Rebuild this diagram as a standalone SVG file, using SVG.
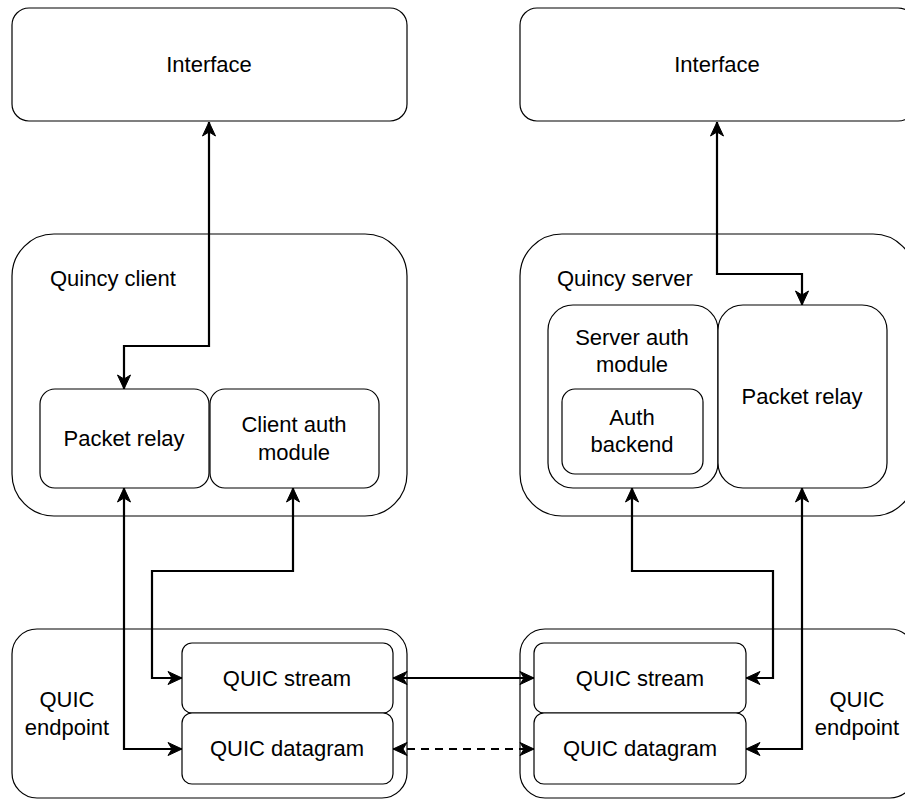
<svg xmlns="http://www.w3.org/2000/svg" width="905" height="799" viewBox="0 0 905 799">
<defs>
<style>
.box{fill:#fff;stroke:#000;stroke-width:1.2}
.t{font-family:"Liberation Sans",Arial,sans-serif;font-size:22px;fill:#000;text-anchor:middle}
.ts{font-family:"Liberation Sans",Arial,sans-serif;font-size:22px;fill:#000;text-anchor:start}
.c{fill:none;stroke:#000;stroke-width:2.2;marker-start:url(#arr);marker-end:url(#arr)}
.dash{stroke-dasharray:8 6}
</style>
<marker id="arr" markerUnits="userSpaceOnUse" viewBox="-15 -8 16 16" refX="0" refY="0" markerWidth="16" markerHeight="16" orient="auto-start-reverse" overflow="visible">
<path d="M0,0 L-14,-6.5 L-10,0 L-14,6.5 Z" fill="#000" stroke="#000" stroke-width="1"/>
</marker>
</defs>

<g id="interface-left">
<rect class="box" x="12" y="8" width="395" height="113" rx="17"/>
<text class="t" x="209" y="72">Interface</text>
</g>
<g id="interface-right">
<rect class="box" x="520" y="8" width="395" height="113" rx="17"/>
<text class="t" x="717" y="72">Interface</text>
</g>

<g id="quincy-client">
<rect class="box" x="12" y="234" width="395" height="282" rx="42"/>
<text class="ts" x="50" y="286">Quincy client</text>
</g>
<g id="client-packet-relay">
<rect class="box" x="40" y="389" width="169" height="99" rx="15"/>
<text class="t" x="124" y="446">Packet relay</text>
</g>
<g id="client-auth-module">
<rect class="box" x="210" y="389" width="169" height="99" rx="15"/>
<text class="t" x="294" y="432">Client auth</text>
<text class="t" x="294" y="460">module</text>
</g>

<g id="quincy-server">
<rect class="box" x="520" y="234" width="395" height="282" rx="42"/>
<text class="ts" x="557" y="286">Quincy server</text>
</g>
<g id="server-auth-module">
<rect class="box" x="548" y="305" width="170" height="183" rx="25"/>
<text class="t" x="632" y="345">Server auth</text>
<text class="t" x="632" y="372">module</text>
</g>
<g id="auth-backend">
<rect class="box" x="562" y="389" width="141" height="85" rx="13"/>
<text class="t" x="632" y="425">Auth</text>
<text class="t" x="632" y="452">backend</text>
</g>
<g id="server-packet-relay">
<rect class="box" x="718" y="305" width="169" height="183" rx="25"/>
<text class="t" x="802" y="404">Packet relay</text>
</g>

<g id="quic-endpoint-left">
<rect class="box" x="12" y="629" width="395" height="169" rx="25"/>
<text class="t" x="67" y="707">QUIC</text>
<text class="t" x="67" y="735">endpoint</text>
</g>
<g id="quic-stream-left">
<rect class="box" x="182" y="643" width="211" height="70" rx="10"/>
<text class="t" x="287" y="686">QUIC stream</text>
</g>
<g id="quic-datagram-left">
<rect class="box" x="182" y="713" width="211" height="71" rx="10"/>
<text class="t" x="287" y="756">QUIC datagram</text>
</g>

<g id="quic-endpoint-right">
<rect class="box" x="520" y="629" width="395" height="169" rx="25"/>
<text class="t" x="857" y="707">QUIC</text>
<text class="t" x="857" y="735">endpoint</text>
</g>
<g id="quic-stream-right">
<rect class="box" x="534" y="643" width="212" height="70" rx="10"/>
<text class="t" x="640" y="686">QUIC stream</text>
</g>
<g id="quic-datagram-right">
<rect class="box" x="534" y="713" width="212" height="71" rx="10"/>
<text class="t" x="640" y="756">QUIC datagram</text>
</g>

<g id="connectors">
<path class="c" d="M209,122 V346 H124 V389"/>
<path class="c" d="M717,122 V274 H802 V305"/>
<path class="c" d="M124,488 V749 H182"/>
<path class="c" d="M293,488 V571 H152 V678 H182"/>
<path class="c" d="M632,488 V571 H773 V678 H746"/>
<path class="c" d="M802,488 V749 H746"/>
<path class="c" d="M393,678 H534"/>
<path class="c dash" d="M393,749 H534"/>
</g>
</svg>
